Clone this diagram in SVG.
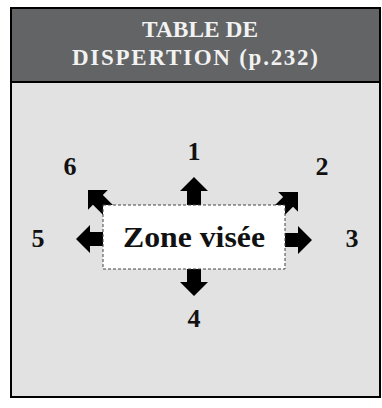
<svg xmlns="http://www.w3.org/2000/svg" xmlns:xlink="http://www.w3.org/1999/xlink" width="382" height="408" viewBox="0 0 382 408">
  <style>
    .hdr { font-family: "Liberation Serif", "DejaVu Serif", serif; font-weight: bold; font-size: 23px; fill: #f2f2f2; text-anchor: middle; }
    .num { font-family: "Liberation Serif", "DejaVu Serif", serif; font-weight: bold; font-size: 26px; fill: #111; text-anchor: middle; }
    .zone { font-family: "Liberation Serif", "DejaVu Serif", serif; font-weight: bold; font-size: 29px; fill: #111; text-anchor: middle; }
    .arrow { fill: #000; }
  </style>
  <defs>
    <path id="arr" d="M0,0 L14,14 L7,14 L7,40 L-7,40 L-7,14 L-14,14 Z"/>
  </defs>
  <rect width="382" height="408" fill="#ffffff"/>
  <g id="frame">
    <rect x="11" y="8" width="369" height="389" fill="#e1e2e1" stroke="#000" stroke-width="2"/>
    <rect x="11" y="8" width="369" height="74" fill="#636466" stroke="#000" stroke-width="2"/>
    <text class="hdr" x="200" y="37" textLength="116" lengthAdjust="spacingAndGlyphs">TABLE DE</text>
    <text class="hdr" x="195" y="65" textLength="246" lengthAdjust="spacing">DISPERTION (p.232)</text>
  </g>
  <g id="connectors">
    <use class="arrow" xlink:href="#arr" transform="translate(194,177)"/>
    <use class="arrow" xlink:href="#arr" transform="translate(298,192) rotate(45)"/>
    <use class="arrow" xlink:href="#arr" transform="translate(312,240) rotate(90)"/>
    <use class="arrow" xlink:href="#arr" transform="translate(194,296) rotate(180)"/>
    <use class="arrow" xlink:href="#arr" transform="translate(76,239) rotate(-90)"/>
    <use class="arrow" xlink:href="#arr" transform="translate(88,190) rotate(-45)"/>
  </g>
  <g id="zone">
    <rect x="103" y="205" width="182" height="64" fill="#ffffff" stroke="#444" stroke-width="1" stroke-dasharray="3,2"/>
    <text class="zone" x="194" y="247" textLength="142" lengthAdjust="spacingAndGlyphs">Zone visée</text>
  </g>
  <g id="labels">
    <text class="num" x="194" y="160">1</text>
    <text class="num" x="322" y="175">2</text>
    <text class="num" x="352" y="247">3</text>
    <text class="num" x="194" y="327">4</text>
    <text class="num" x="38" y="247">5</text>
    <text class="num" x="70" y="175">6</text>
  </g>
</svg>
